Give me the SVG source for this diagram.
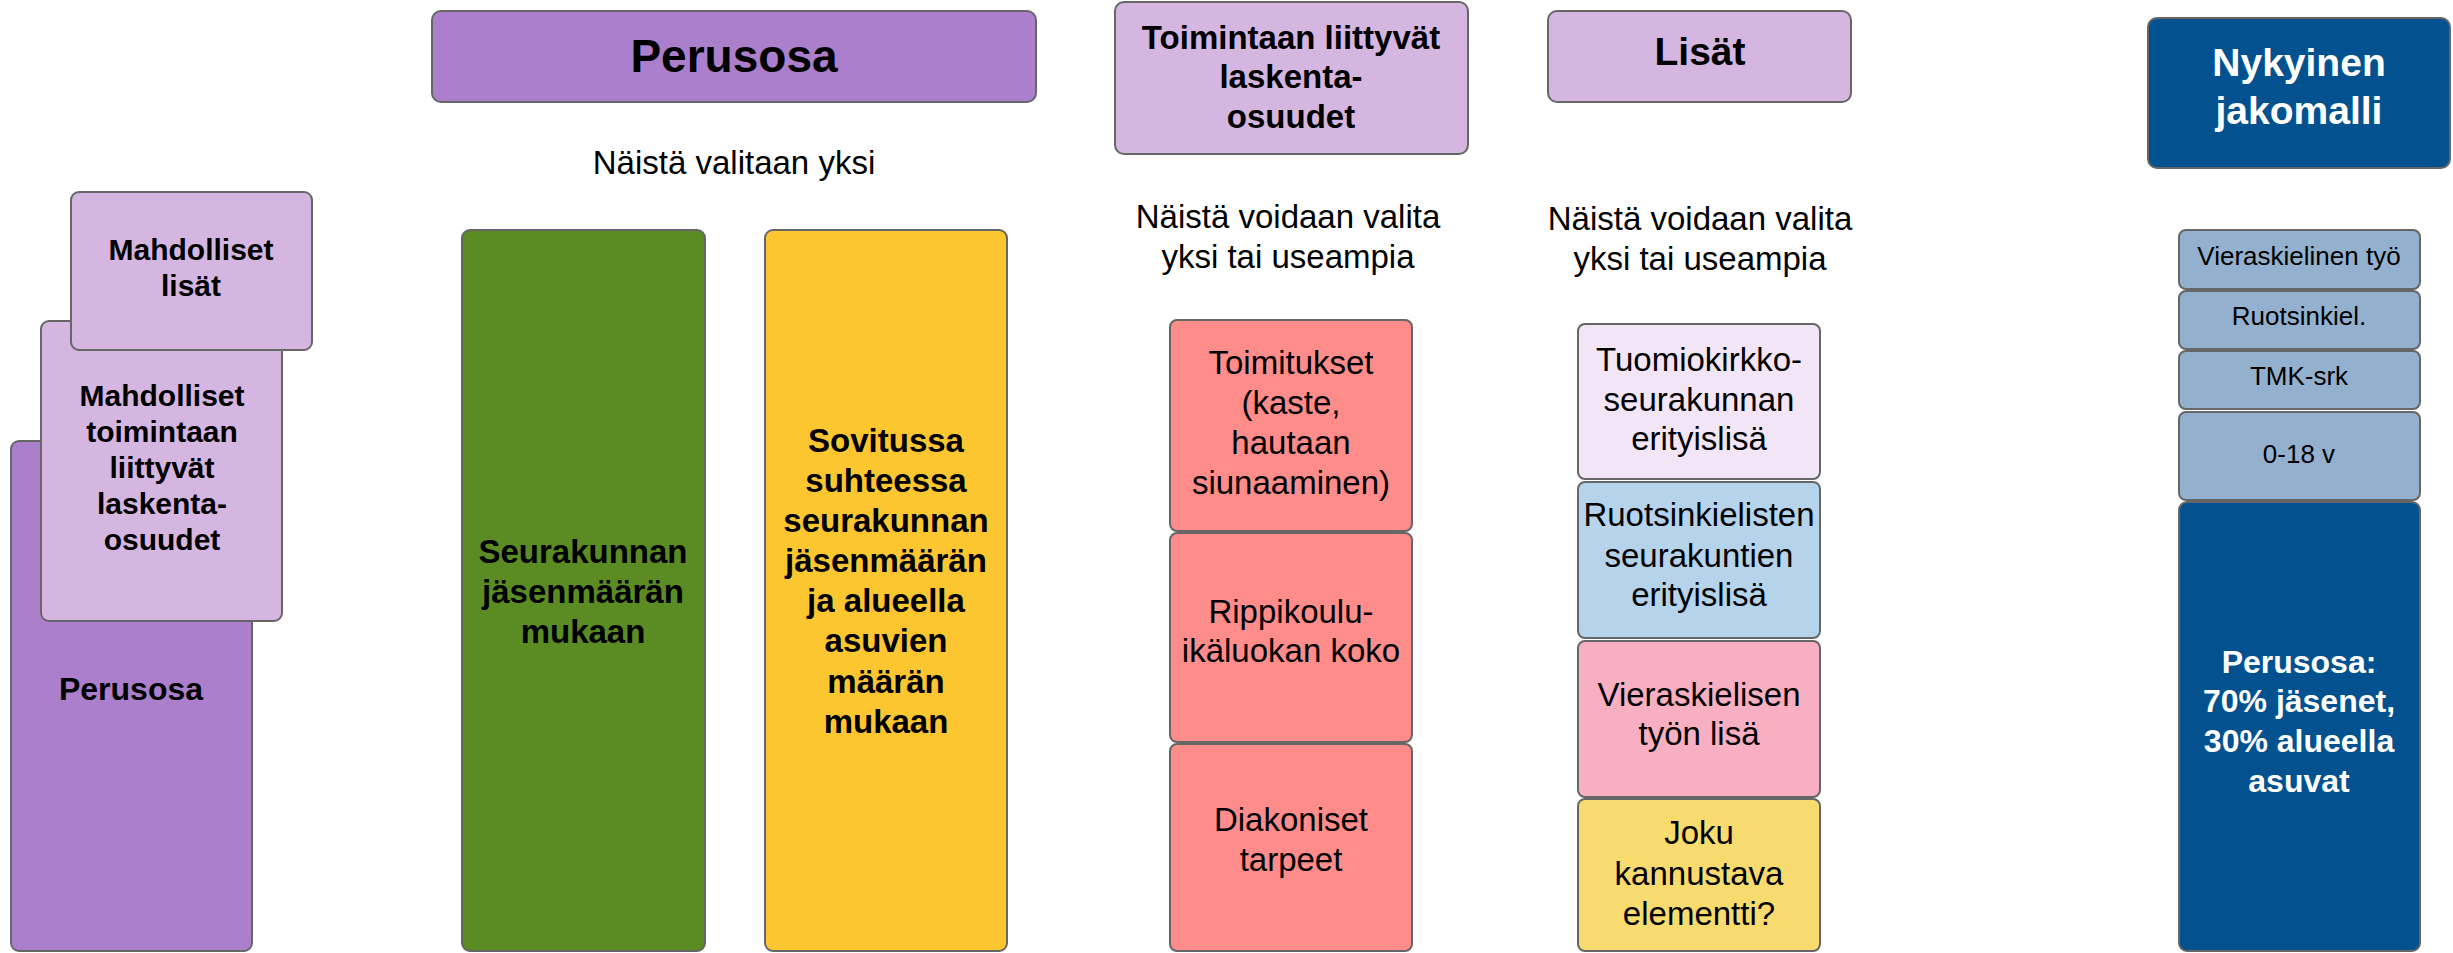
<svg xmlns="http://www.w3.org/2000/svg" width="2453" height="953" viewBox="0 0 2453 953">
<style>
  text { font-family: "Liberation Sans", Arial, sans-serif; text-anchor: middle; fill: #000; }
  .b { font-weight: bold; }
  .box { stroke: #666666; stroke-width: 2; }
  .dark { fill: #ab7fcc; }
  .light { fill: #d4b6e0; }
  .green { fill: #5b8c23; }
  .yellow { fill: #fcc630; }
  .salmon { fill: #fe8c8b; }
  .lav { fill: #f2e5f6; }
  .blue { fill: #b6d3ec; }
  .pink { fill: #f9afc2; }
  .lyellow { fill: #f8db6f; }
  .navy { fill: #03528f; }
  .steel { fill: #93b1ce; }
  .w { fill: #fff; }
  .t33 { font-size: 33px; }
  .t30 { font-size: 30px; }
  .t26 { font-size: 26px; }
</style>
<rect width="2453" height="953" fill="#fff"/>

<!-- Left stacked illustration -->
<g id="left-perusosa">
  <rect class="box dark" x="11" y="441" width="241" height="510" rx="8"/>
  <text class="b" x="131" y="700" font-size="32">Perusosa</text>
</g>
<g id="left-toimintaan">
  <rect class="box light" x="41" y="321" width="241" height="300" rx="8"/>
  <text class="b t30" x="162"><tspan x="162" y="406">Mahdolliset</tspan><tspan x="162" y="442">toimintaan</tspan><tspan x="162" y="478">liittyvät</tspan><tspan x="162" y="514">laskenta-</tspan><tspan x="162" y="550">osuudet</tspan></text>
</g>
<g id="left-lisat">
  <rect class="box light" x="71" y="192" width="241" height="158" rx="8"/>
  <text class="b t30" x="191"><tspan x="191" y="260">Mahdolliset</tspan><tspan x="191" y="296">lisät</tspan></text>
</g>

<!-- Perusosa column -->
<g id="perusosa-header">
  <rect class="box dark" x="432" y="11" width="604" height="91" rx="9"/>
  <text class="b" x="734" y="72" font-size="46">Perusosa</text>
</g>
<g id="perusosa-note">
  <text class="t33" x="734" y="174">Näistä valitaan yksi</text>
</g>
<g id="seurakunnan">
  <rect class="box green" x="462" y="230" width="243" height="721" rx="8"/>
  <text class="b t33" x="583"><tspan x="583" y="563">Seurakunnan</tspan><tspan x="583" y="603">jäsenmäärän</tspan><tspan x="583" y="643">mukaan</tspan></text>
</g>
<g id="sovitussa">
  <rect class="box yellow" x="765" y="230" width="242" height="721" rx="8"/>
  <text class="b t33" x="886"><tspan x="886" y="452">Sovitussa</tspan><tspan x="886" y="492">suhteessa</tspan><tspan x="886" y="532">seurakunnan</tspan><tspan x="886" y="572">jäsenmäärän</tspan><tspan x="886" y="612">ja alueella</tspan><tspan x="886" y="652">asuvien</tspan><tspan x="886" y="693">määrän</tspan><tspan x="886" y="733">mukaan</tspan></text>
</g>

<!-- Toimintaan liittyvät column -->
<g id="toimintaan-header">
  <rect class="box light" x="1115" y="2" width="353" height="152" rx="9"/>
  <text class="b t33" x="1291"><tspan x="1291" y="49">Toimintaan liittyvät</tspan><tspan x="1291" y="88">laskenta-</tspan><tspan x="1291" y="128">osuudet</tspan></text>
</g>
<g id="toimintaan-note">
  <text class="t33" x="1288"><tspan x="1288" y="228">Näistä voidaan valita</tspan><tspan x="1288" y="268">yksi tai useampia</tspan></text>
</g>
<g id="toimitukset">
  <rect class="box salmon" x="1170" y="320" width="242" height="211" rx="7"/>
  <text class="t33" x="1291"><tspan x="1291" y="374">Toimitukset</tspan><tspan x="1291" y="414">(kaste,</tspan><tspan x="1291" y="454">hautaan</tspan><tspan x="1291" y="494">siunaaminen)</tspan></text>
</g>
<g id="rippikoulu">
  <rect class="box salmon" x="1170" y="533" width="242" height="209" rx="7"/>
  <text class="t33" x="1291"><tspan x="1291" y="623">Rippikoulu-</tspan><tspan x="1291" y="662">ikäluokan koko</tspan></text>
</g>
<g id="diakoniset">
  <rect class="box salmon" x="1170" y="744" width="242" height="207" rx="7"/>
  <text class="t33" x="1291"><tspan x="1291" y="831">Diakoniset</tspan><tspan x="1291" y="871">tarpeet</tspan></text>
</g>

<!-- Lisät column -->
<g id="lisat-header">
  <rect class="box light" x="1548" y="11" width="303" height="91" rx="9"/>
  <text class="b" x="1700" y="65" font-size="39">Lisät</text>
</g>
<g id="lisat-note">
  <text class="t33" x="1700"><tspan x="1700" y="230">Näistä voidaan valita</tspan><tspan x="1700" y="270">yksi tai useampia</tspan></text>
</g>
<g id="tuomiokirkko">
  <rect class="box lav" x="1578" y="324" width="242" height="155" rx="7"/>
  <text class="t33" x="1699"><tspan x="1699" y="371">Tuomiokirkko-</tspan><tspan x="1699" y="411">seurakunnan</tspan><tspan x="1699" y="450">erityislisä</tspan></text>
</g>
<g id="ruotsinkielisten">
  <rect class="box blue" x="1578" y="482" width="242" height="156" rx="7"/>
  <text class="t33" x="1699"><tspan x="1699" y="526">Ruotsinkielisten</tspan><tspan x="1699" y="567">seurakuntien</tspan><tspan x="1699" y="606">erityislisä</tspan></text>
</g>
<g id="vieraskielisen">
  <rect class="box pink" x="1578" y="641" width="242" height="156" rx="7"/>
  <text class="t33" x="1699"><tspan x="1699" y="706">Vieraskielisen</tspan><tspan x="1699" y="745">työn lisä</tspan></text>
</g>
<g id="joku">
  <rect class="box lyellow" x="1578" y="799" width="242" height="152" rx="7"/>
  <text class="t33" x="1699"><tspan x="1699" y="844">Joku</tspan><tspan x="1699" y="885">kannustava</tspan><tspan x="1699" y="925">elementti?</tspan></text>
</g>

<!-- Nykyinen jakomalli column -->
<g id="nykyinen-header">
  <rect class="box navy" x="2148" y="18" width="302" height="150" rx="9"/>
  <text class="b w" x="2299" font-size="39"><tspan x="2299" y="76">Nykyinen</tspan><tspan x="2299" y="124">jakomalli</tspan></text>
</g>
<g id="vieraskielinen-tyo">
  <rect class="box steel" x="2179" y="230" width="241" height="59" rx="7"/>
  <text class="t26" x="2299" y="265">Vieraskielinen työ</text>
</g>
<g id="ruotsinkiel">
  <rect class="box steel" x="2179" y="291" width="241" height="58" rx="7"/>
  <text class="t26" x="2299" y="325">Ruotsinkiel.</text>
</g>
<g id="tmk-srk">
  <rect class="box steel" x="2179" y="351" width="241" height="58" rx="7"/>
  <text class="t26" x="2299" y="385">TMK-srk</text>
</g>
<g id="nolla-18">
  <rect class="box steel" x="2179" y="412" width="241" height="88" rx="7"/>
  <text class="t26" x="2299" y="463">0-18 v</text>
</g>
<g id="nykyinen-perusosa">
  <rect class="box navy" x="2179" y="502" width="241" height="449" rx="8"/>
  <text class="b w" x="2299" font-size="32"><tspan x="2299" y="673">Perusosa:</tspan><tspan x="2299" y="712">70% jäsenet,</tspan><tspan x="2299" y="752">30% alueella</tspan><tspan x="2299" y="792">asuvat</tspan></text>
</g>

<g id="connectors"></g>
</svg>
